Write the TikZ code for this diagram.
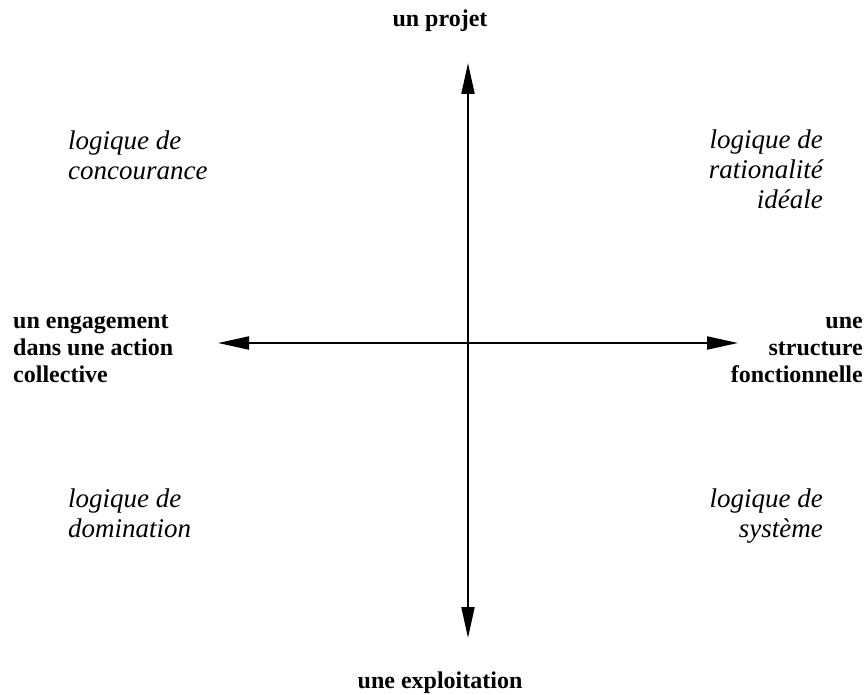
\documentclass[tikz,border=0pt]{standalone}
\usepackage{fontspec}
\setmainfont{Liberation Serif}
\usetikzlibrary{arrows.meta,positioning}

\begin{document}
\begin{tikzpicture}[
    x=1pt, y=-1pt,
    axis/.style={line width=2pt, {Triangle[length=31pt,width=13pt]}-{Triangle[length=31pt,width=13pt]}},
    pole/.style={inner sep=0, font=\fontsize{24}{27}\selectfont\bfseries},
    logic/.style={inner sep=0, font=\fontsize{27}{30}\selectfont\itshape}]
\useasboundingbox (0,0) rectangle (867,695);

% axes
\coordinate (top) at (468,63);
\coordinate (bottom) at (468,638);
\coordinate (left) at (218,343);
\coordinate (right) at (738,343);
\draw[axis] (bottom) -- (top);
\draw[axis] (left) -- (right);

% poles (base = last line)
\node[pole, anchor=base] (projet) at (440,27) {un projet};
\node[pole, anchor=base] (exploitation) at (440,688) {une exploitation};
\node[pole, anchor=base west, align=left] (engagement) at (13,382) {un engagement\\dans une action\\collective};
\node[pole, anchor=base east, align=right] (structure) at (863,382) {une\\structure\\fonctionnelle};

% logics
\node[logic, anchor=base west, align=left] (concourance) at (68,180) {logique de\\concourance};
\node[logic, anchor=base east, align=right] (rationalite) at (823,208) {logique de\\rationalité\\idéale};
\node[logic, anchor=base west, align=left] (domination) at (68,537) {logique de\\domination};
\node[logic, anchor=base east, align=right] (systeme) at (823,537) {logique de\\système};

\end{tikzpicture}
\end{document}
